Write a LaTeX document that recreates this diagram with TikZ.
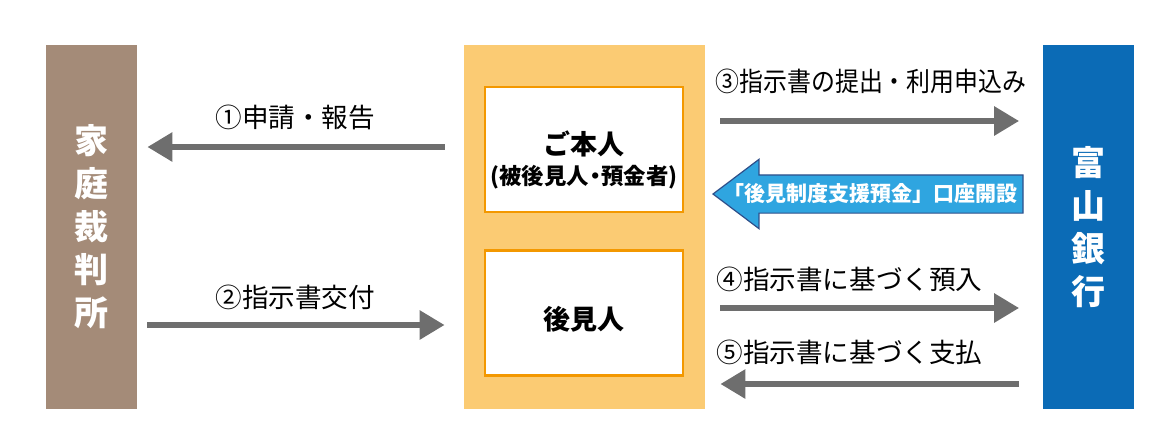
\documentclass[tikz,border=0pt]{standalone}
\usepackage{fontspec}
\usepackage{graphicx}
\setmainfont{Noto Sans CJK JP}
\usetikzlibrary{arrows.meta,shapes.arrows}
\definecolor{courtbrown}{HTML}{A48B78}
\definecolor{panelorange}{HTML}{FBCB73}
\definecolor{boxorange}{HTML}{F39800}
\definecolor{bankblue}{HTML}{0B6BB6}
\definecolor{openblue}{HTML}{2FA5E0}
\definecolor{openedge}{HTML}{2E4F8A}
\definecolor{flowgray}{HTML}{6E6E6E}
\tikzset{
  bar/.style={fill=#1, minimum width=45.5pt, minimum height=182pt, inner sep=0pt,
    text=white, font=\bfseries\fontsize{17}{21.5}\selectfont, align=center},
  person/.style={draw=boxorange, line width=1.2pt, fill=white, minimum width=99pt,
    minimum height=62.5pt, inner xsep=1pt, align=center},
  flow/.style={draw=flowgray, line width=3pt, -{Triangle[length=12.5pt,width=14pt]}},
  flowlabel/.style={anchor=west, inner sep=0pt, font=\fontsize{13.3}{15}\selectfont},
  bigarrow/.style={single arrow, shape border rotate=180, fill=openblue, draw=openedge,
    line width=0.6pt, minimum width=34pt, minimum height=155pt, single arrow head extend=7.75pt,
    single arrow tip angle=74, inner xsep=0pt, inner ysep=9.25pt}
}
\begin{document}
\begin{tikzpicture}[x=0.5pt,y=-0.5pt]
  \useasboundingbox (0,0) rectangle (1175,446);
  % parties
  \node[bar=courtbrown] (court) at (91.5,227) {家\\庭\\裁\\判\\所};
  \node[bar=bankblue] (bank) at (1088,227) {富\\山\\銀\\行};
  \node[fill=panelorange, minimum width=120.5pt, minimum height=182pt] (panel) at (584.5,227) {};
  \node[person] (principal) at (584,149.5) {{\bfseries\fontsize{13.5}{16}\selectfont\rule{0pt}{22pt}ご本人}\\[3pt]
    {\bfseries\fontsize{11.2}{13}\selectfont (被後見人\kern-2.5pt・\kern-2.5pt預金者)}};
  \node[person, font=\bfseries\fontsize{13.5}{16}\selectfont] (guardian) at (584,313) {\rule{0pt}{18pt}後見人};
  % account opening
  \node[bigarrow, anchor=tip] (open) at (712,194) {};
  \node[text=white, inner sep=0pt, font=\bfseries\fontsize{10.5}{12}\selectfont] (openlabel) at (870,194) {「後見制度支援預金」口座開設};
  % flows
  \draw[flow, shorten <=9.5pt, shorten >=5pt] (panel.west |- 0,147) -- (court.east |- 0,147);
  \draw[flow, shorten <=5pt, shorten >=9.5pt] (court.east |- 0,325) -- (panel.west |- 0,325);
  \draw[flow, shorten <=7.5pt, shorten >=11.5pt] (panel.east |- 0,121) -- (bank.west |- 0,121);
  \draw[flow, shorten <=7.5pt, shorten >=11.5pt] (panel.east |- 0,308) -- (bank.west |- 0,308);
  \draw[flow, shorten <=11.5pt, shorten >=7.5pt] (bank.west |- 0,384) -- (panel.east |- 0,384);
  \node[flowlabel] (apply) at (215,117) {①申請・報告};
  \node[flowlabel] (issue) at (215,297) {②指示書交付};
  \node[flowlabel] (submit) at (715,81) {\scalebox{0.9}[1]{③指示書の提出・利用申込み}};
  \node[flowlabel] (deposit) at (716,279) {④指示書に基づく預入};
  \node[flowlabel] (withdraw) at (716,352) {⑤指示書に基づく支払};
\end{tikzpicture}
\end{document}
